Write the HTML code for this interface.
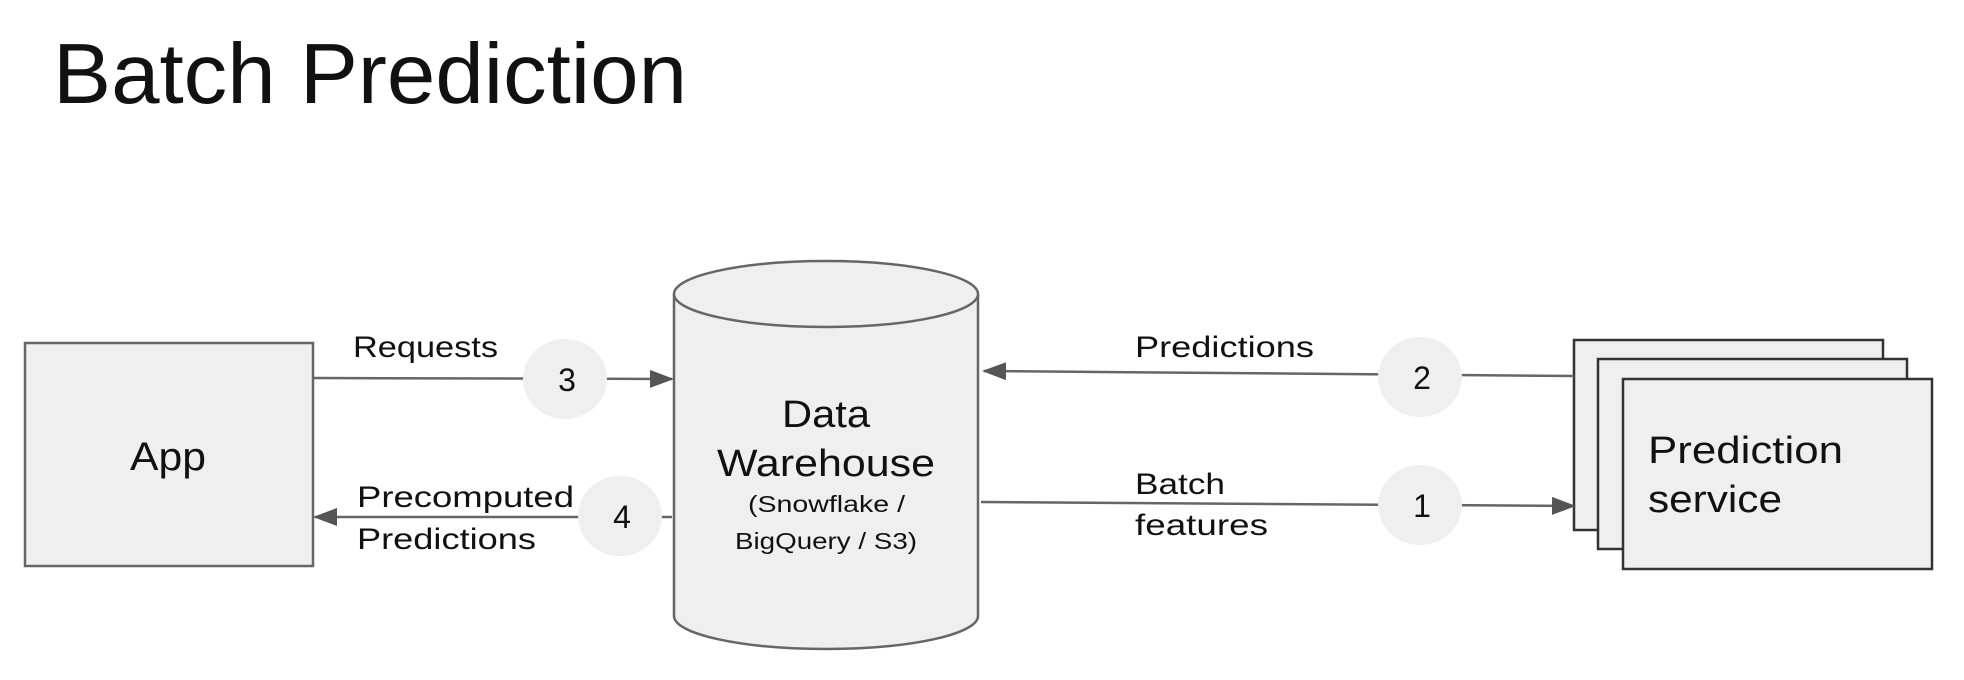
<!DOCTYPE html>
<html><head><meta charset="utf-8"><style>
html,body{margin:0;padding:0;background:#fff;}
svg{display:block;}
text{font-family:"Liberation Sans",sans-serif;fill:#111;}
</style></head><body>
<svg width="1964" height="680" viewBox="0 0 1964 680" xmlns="http://www.w3.org/2000/svg">
<defs>
<marker id="a2" markerWidth="24" markerHeight="18" refX="22" refY="9" orient="auto" markerUnits="userSpaceOnUse" viewBox="0 0 24 18">
<path d="M0,0 L24,9 L0,18 z" fill="#555"/></marker>
</defs>
<text x="53" y="103" font-size="85" textLength="634" lengthAdjust="spacingAndGlyphs">Batch Prediction</text>

<rect x="25" y="343" width="288" height="223" fill="#efefef" stroke="#666" stroke-width="2.5"/>
<text x="130" y="470" font-size="40" textLength="76" lengthAdjust="spacingAndGlyphs">App</text>

<path d="M674,294 L674,616 A152,33 0 0 0 978,616 L978,294" fill="#efefef" stroke="#666" stroke-width="2.5"/>
<ellipse cx="826" cy="294" rx="152" ry="33" fill="#efefef" stroke="#666" stroke-width="2.5"/>
<text x="782" y="427" font-size="38" textLength="88" lengthAdjust="spacingAndGlyphs">Data</text>
<text x="717" y="476" font-size="38" textLength="218" lengthAdjust="spacingAndGlyphs">Warehouse</text>
<text x="748" y="512" font-size="23" textLength="157" lengthAdjust="spacingAndGlyphs">(Snowflake /</text>
<text x="735" y="549" font-size="23" textLength="182" lengthAdjust="spacingAndGlyphs">BigQuery / S3)</text>

<rect x="1574" y="340" width="309" height="190" fill="#efefef" stroke="#333" stroke-width="2.5"/>
<rect x="1598" y="359" width="309" height="190" fill="#efefef" stroke="#333" stroke-width="2.5"/>
<rect x="1623" y="379" width="309" height="190" fill="#efefef" stroke="#333" stroke-width="2.5"/>
<text x="1648" y="463" font-size="38" textLength="195" lengthAdjust="spacingAndGlyphs">Prediction</text>
<text x="1648" y="512" font-size="38" textLength="134" lengthAdjust="spacingAndGlyphs">service</text>

<g stroke="#666" stroke-width="2.5" fill="none">
<line x1="313" y1="378" x2="672" y2="379" marker-end="url(#a2)"/>
<line x1="1574" y1="376" x2="984" y2="371" marker-end="url(#a2)"/>
<line x1="981" y1="502" x2="1574" y2="506" marker-end="url(#a2)"/>
<line x1="672" y1="517" x2="315" y2="517" marker-end="url(#a2)"/>
</g>

<g fill="#efefef">
<ellipse cx="565" cy="379" rx="42" ry="40"/>
<ellipse cx="1420" cy="377" rx="42" ry="40"/>
<ellipse cx="1420" cy="505" rx="42" ry="40"/>
<ellipse cx="620" cy="516" rx="42" ry="40"/>
</g>
<g font-size="32" text-anchor="middle">
<text x="567" y="391">3</text>
<text x="1422" y="389">2</text>
<text x="1422" y="517">1</text>
<text x="622" y="528">4</text>
</g>
<g font-size="30" lengthAdjust="spacingAndGlyphs">
<text x="353" y="357" textLength="145" lengthAdjust="spacingAndGlyphs">Requests</text>
<text x="1135" y="357" textLength="179" lengthAdjust="spacingAndGlyphs">Predictions</text>
<text x="1135" y="494" textLength="90" lengthAdjust="spacingAndGlyphs">Batch</text>
<text x="1135" y="535" textLength="133" lengthAdjust="spacingAndGlyphs">features</text>
<text x="357" y="507" textLength="217" lengthAdjust="spacingAndGlyphs">Precomputed</text>
<text x="357" y="549" textLength="179" lengthAdjust="spacingAndGlyphs">Predictions</text>
</g>
</svg>
</body></html>
